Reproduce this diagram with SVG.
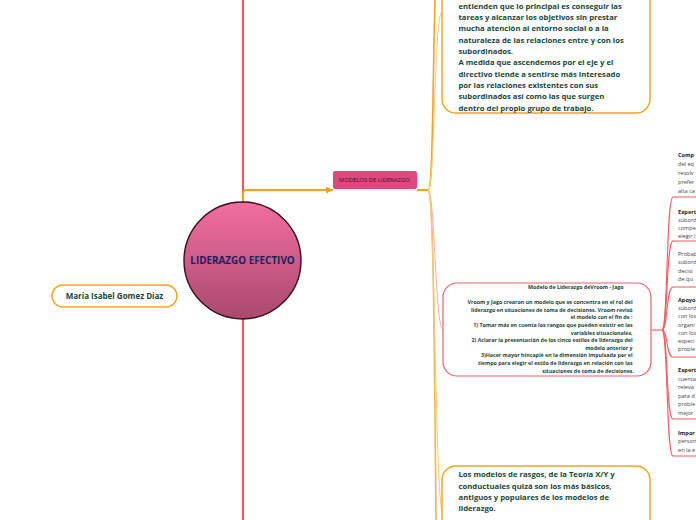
<svg xmlns="http://www.w3.org/2000/svg" width="696" height="520" viewBox="0 0 696 520">
<defs>
<linearGradient id="cg" x1="0" y1="0" x2="0" y2="1">
<stop offset="0" stop-color="#f26ea1"/>
<stop offset="1" stop-color="#a9496f"/>
</linearGradient>
<marker id="arr" viewBox="0 0 10 10" refX="10" refY="5" markerWidth="7" markerHeight="7" markerUnits="userSpaceOnUse" orient="auto">
<path d="M0,0 L10,5 L0,10 z" fill="#f7a21b"/>
</marker>
<style>
.t{font-family:"Open Sans","Noto Sans","Liberation Sans",sans-serif;fill:#17473a;font-weight:bold}
.big{font-size:7.7px}
.vr{font-size:5.3px;text-anchor:end}
.rc{font-family:"Open Sans","Noto Sans","Liberation Sans",sans-serif;font-size:5.6px;fill:#444}
.rb{font-weight:bold;fill:#222}
.ob{fill:#fff;stroke:#f7a21b;stroke-width:1.4}
.rl{fill:none;stroke:#f25a62;stroke-width:1.1}
</style>
</defs>
<rect width="696" height="520" fill="#fff"/>
<g id="connectors" fill="none">
<line x1="243" y1="0" x2="243" y2="520" stroke="#f5555a" stroke-width="2"/>
<path d="M243,203 V194 Q243,190 247,190 H333" stroke="#f7a21b" stroke-width="2" marker-end="url(#arr)"/>
<path d="M417,190 H428" stroke="#f7a21b" stroke-width="2"/>
<path d="M428,190 C433,190 432,120 435,0" stroke="#f7a21b" stroke-width="1.6"/>
<path d="M428,190 C435,190 434,12 442,12" stroke="#fbc874" stroke-width="1"/>
<path d="M428,190 C433,190 434,300 436,520" stroke="#f7b44a" stroke-width="1.6"/>
<path d="M428,190 C435,190 435,329 443,329" stroke="#f7aab3" stroke-width="1"/>
<path d="M428,190 C435,190 435,513 443,513" stroke="#fbc874" stroke-width="1"/>
<path d="M651,330 H662" class="rl"/>
<path d="M662,330 C668,330 666,197 673,197 H696" class="rl"/>
<path d="M662,330 C668,330 666,241 673,241 H696" class="rl"/>
<path d="M662,330 C668,330 666,287 673,287 H696" class="rl"/>
<path d="M662,330 C668,330 666,357 673,357 H696" class="rl"/>
<path d="M662,330 C668,330 666,419 673,419 H696" class="rl"/>
<path d="M662,330 C668,330 666,456 673,456 H696" class="rl"/>
</g>
<g id="center">
<circle cx="242.5" cy="260.5" r="58.5" fill="url(#cg)" stroke="#3a0f1a" stroke-width="1.4"/>
<text x="242.5" y="264" text-anchor="middle" font-family="'Open Sans','Noto Sans','Liberation Sans',sans-serif" font-weight="bold" font-size="9.9" fill="#1c1f5c">LIDERAZGO EFECTIVO</text>
</g>
<g id="author">
<rect x="52" y="285" width="125" height="22" rx="11" class="ob"/>
<text x="114.5" y="299" text-anchor="middle" class="t" font-size="8">Maria Isabel Gomez Diaz</text>
</g>
<g id="modelos">
<rect x="333" y="171" width="84" height="18" rx="2" fill="#e1467d"/>
<text x="375" y="182.2" text-anchor="middle" font-family="'Open Sans','Noto Sans','Liberation Sans',sans-serif" font-size="5.9" fill="#3b1224">MODELOS DE LIDERAZGO.</text>
</g>
<g id="top-box">
<rect x="442" y="-90" width="208" height="203" rx="14" class="ob"/>
<text class="t big">
<tspan x="458.5" y="8.8">entienden que lo principal es conseguir las</tspan>
<tspan x="458.5" y="20.1">tareas y alcanzar los objetivos sin prestar</tspan>
<tspan x="458.5" y="31.4">mucha atención al entorno social o a la</tspan>
<tspan x="458.5" y="42.7">naturaleza de las relaciones entre y con los</tspan>
<tspan x="458.5" y="54">subordinados.</tspan>
<tspan x="458.5" y="65.3">A medida que ascendemos por el eje y el</tspan>
<tspan x="458.5" y="76.6">directivo tiende a sentirse más interesado</tspan>
<tspan x="458.5" y="87.9">por las relaciones existentes con sus</tspan>
<tspan x="458.5" y="99.2">subordinados así como las que surgen</tspan>
<tspan x="458.5" y="110.5">dentro del propio grupo de trabajo.</tspan>
</text>
</g>
<g id="vroom">
<rect x="443" y="283" width="208" height="93" rx="14" fill="#fff" stroke="#f0606e" stroke-width="1.2"/>
<text class="t vr">
<tspan x="625" y="289">Modelo de Liderazgo deVroom - Jago</tspan>
<tspan x="634" y="304.2">Vroom y Jago crearon un modelo que se concentra en el rol del</tspan>
<tspan x="634" y="311.8">liderazgo en situaciones de toma de decisiones. Vroom revisó</tspan>
<tspan x="634" y="319.4">el modelo con el fin de :</tspan>
<tspan x="634" y="327">1) Tomar más en cuenta los rangos que pueden existir en las</tspan>
<tspan x="634" y="334.6">variables situacionales,</tspan>
<tspan x="634" y="342.2">2) Aclarar la presentación de los cinco estilos de liderazgo del</tspan>
<tspan x="634" y="349.8">modelo anterior y</tspan>
<tspan x="634" y="357.4">3)Hacer mayor hincapié en la dimensión impulsada por el</tspan>
<tspan x="634" y="365">tiempo para elegir el estilo de liderazgo en relación con las</tspan>
<tspan x="634" y="372.6">situaciones de toma de decisiones.</tspan>
</text>
</g>
<g id="bottom-box">
<rect x="442" y="466" width="208" height="100" rx="14" class="ob"/>
<text class="t big">
<tspan x="458.5" y="477.3">Los modelos de rasgos, de la Teoría X/Y y</tspan>
<tspan x="458.5" y="488.6">conductuales quizá son los más básicos,</tspan>
<tspan x="458.5" y="499.9">antiguos y populares de los modelos de</tspan>
<tspan x="458.5" y="511.2">liderazgo.</tspan>
</text>
</g>
<g id="item1"><text class="rc"><tspan x="678" y="157" class="rb">Comp</tspan><tspan x="678" y="166.2">del eq</tspan><tspan x="678" y="175.1">resolv</tspan><tspan x="678" y="184">prefer</tspan><tspan x="678" y="192.5">alta ca</tspan></text></g>
<g id="item2"><text class="rc"><tspan x="678" y="213.8" class="rb">Expert</tspan><tspan x="678" y="222">subord</tspan><tspan x="678" y="230">compe</tspan><tspan x="678" y="238">elegir l</tspan></text></g>
<g id="item3"><text class="rc"><tspan x="678" y="255.5">Probab</tspan><tspan x="678" y="264">subord</tspan><tspan x="678" y="272.5">decisi</tspan><tspan x="678" y="281">de qu</tspan></text></g>
<g id="item4"><text class="rc"><tspan x="678" y="302" class="rb">Apoyo</tspan><tspan x="678" y="310.2">subord</tspan><tspan x="678" y="318.4">con los</tspan><tspan x="678" y="326.6">organi</tspan><tspan x="678" y="334.8">con los</tspan><tspan x="678" y="343">especi</tspan><tspan x="678" y="351.2">proble</tspan></text></g>
<g id="item5"><text class="rc"><tspan x="678" y="372" class="rb">Expert</tspan><tspan x="678" y="380.5">cuenta</tspan><tspan x="678" y="389">releva</tspan><tspan x="678" y="397.5">para d</tspan><tspan x="678" y="406">proble</tspan><tspan x="678" y="414.5">mejor</tspan></text></g>
<g id="item6"><text class="rc"><tspan x="678" y="434.5" class="rb">Impor</tspan><tspan x="678" y="443">person</tspan><tspan x="678" y="451.5">en la e</tspan></text></g>
</svg>
